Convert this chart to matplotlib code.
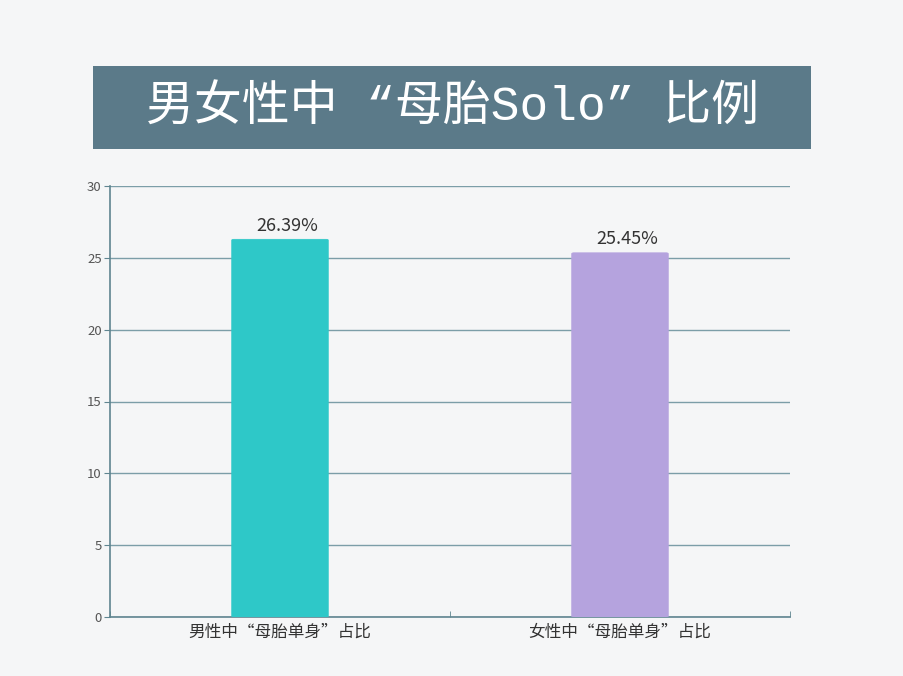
import matplotlib
matplotlib.use("Agg")
import matplotlib.pyplot as plt
from matplotlib.patches import Rectangle, FancyBboxPatch

categories = ["男性中“母胎单身”占比", "女性中“母胎单身”占比"]
values = [26.39, 25.45]
labels = ["26.39%", "25.45%"]
colors = ["#2ec8c8", "#b5a3de"]
yticks = [0, 5, 10, 15, 20, 25, 30]
title = "男女性中 “母胎Solo” 比例"

bg = "#f5f6f7"
axc = "#5f8590"
plt.rcParams['font.family'] = ['Noto Sans CJK SC', 'DejaVu Sans']

fig = plt.figure(figsize=(9.04, 6.76), dpi=100, facecolor=bg)
ax = fig.add_axes([110/904, 59/676, 680/904, 431/676], facecolor=bg)

x = list(range(len(categories)))
bw = 0.296
for xi, v, c in zip(x, values, colors):
    p = FancyBboxPatch((xi - bw/2 + 0.006, 0), bw - 0.012, v - 0.1,
                       boxstyle="round,pad=0,rounding_size=0.006",
                       mutation_aspect=10,
                       fc=c, ec=c, lw=0.5, zorder=3)
    ax.add_patch(p)
for xi, v, t in zip(x, values, labels):
    ax.text(xi + 0.02, v + 0.2, t, ha='center', va='bottom', fontsize=13, color='#333333', zorder=4)

ax.set_xlim(-0.5, 1.5)
ax.set_ylim(0, 30)
ax.set_yticks(yticks)
ax.set_yticklabels([str(t) for t in yticks], fontsize=9.5, color='#555555')
ax.set_xticks(x)
ax.set_xticklabels(categories, fontsize=12, color='#333333')
ax.set_xticks([-0.5, 0.5, 1.5], minor=True)
ax.tick_params(axis='x', which='major', length=0, pad=5)
ax.tick_params(axis='x', which='minor', length=4, color=axc, direction='in')
ax.tick_params(axis='y', length=4, color=axc, pad=2)
ax.yaxis.grid(True, color='#7c9ea8', lw=1.0, zorder=0)
ax.set_axisbelow(True)
for s in ['top', 'right']:
    ax.spines[s].set_visible(False)
for s in ['left', 'bottom']:
    ax.spines[s].set_color(axc)
    ax.spines[s].set_linewidth(1.2)

# title banner
fig.patches.append(Rectangle((93/904, 1 - 149/676), 718/904, 83/676,
                             transform=fig.transFigure, fc="#5b7a89", ec='none'))
fig.text(453/904, 1 - 108/676, title, ha='center', va='center', fontsize=34.5,
         color='white', weight='light', family=['Liberation Mono', 'Noto Sans CJK SC'])

fig.savefig("out.png", dpi=100, facecolor=bg)
